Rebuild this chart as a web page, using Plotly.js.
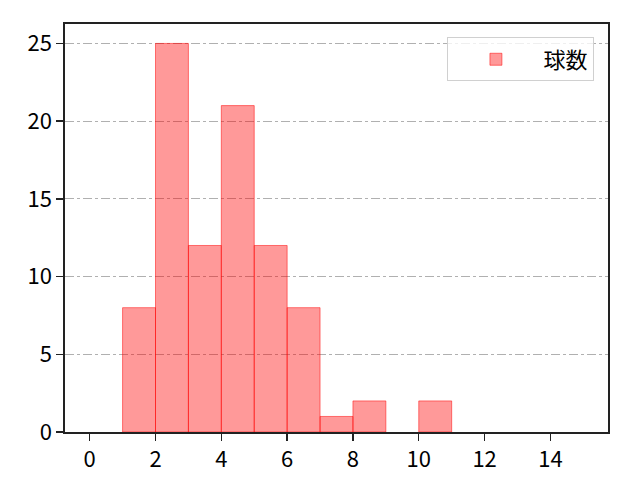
<!DOCTYPE html>
<html><head><meta charset="utf-8">
<script src="https://cdn.plot.ly/plotly-3.0.1.min.js"></script>
<style>body{margin:0;background:#fff}</style>
</head><body><div id="chart" style="width:640px;height:480px"></div>
<script>
var binStarts = [1, 2, 3, 4, 5, 6, 7, 8, 10];
var counts = [8, 25, 12, 21, 12, 8, 1, 2, 2];
var seriesName = '球数';
var xTicks = [0, 2, 4, 6, 8, 10, 12, 14];
var yTicks = [0, 5, 10, 15, 20, 25];

var trace = {
  type: 'bar', x: binStarts, y: counts, name: seriesName,
  offset: 0, width: 1,
  marker: {color: 'rgba(255,0,0,0.4)', line: {color: 'rgba(255,0,0,0.5)', width: 1}},
  showlegend: true
};
var font = {family: '"Noto Sans CJK JP", "DejaVu Sans", sans-serif', size: 22, color: '#000'};
var layout = {
  width: 640, height: 480,
  margin: {l: 65, r: 32, t: 24, b: 48},
  paper_bgcolor: '#fff', plot_bgcolor: '#fff',
  font: font,
  bargap: 0,
  xaxis: {range: [-0.75, 15.75], tickvals: xTicks, ticks: 'outside', ticklen: 7, tickwidth: 1.3, tickcolor: '#222',
    showline: true, linecolor: '#222', linewidth: 1.6, mirror: true, showgrid: false, zeroline: false},
  yaxis: {range: [0, 26.25], tickvals: yTicks, ticks: 'outside', ticklen: 7, tickwidth: 1.3, tickcolor: '#222',
    showline: true, linecolor: '#222', linewidth: 1.6, mirror: true, showgrid: true, gridcolor: '#b0b0b0', gridwidth: 1,
    griddash: 'dashdot', zeroline: false},
  legend: {x: 0.975, y: 0.967, xanchor: 'right', yanchor: 'top', bgcolor: 'rgba(255,255,255,0.8)',
    bordercolor: '#d0d0d0', borderwidth: 1, itemwidth: 85, font: {family: font.family, size: 22, color: '#000'}},
  showlegend: true
};
Plotly.newPlot('chart', [trace], layout, {displayModeBar: false, staticPlot: true});
</script></body></html>
